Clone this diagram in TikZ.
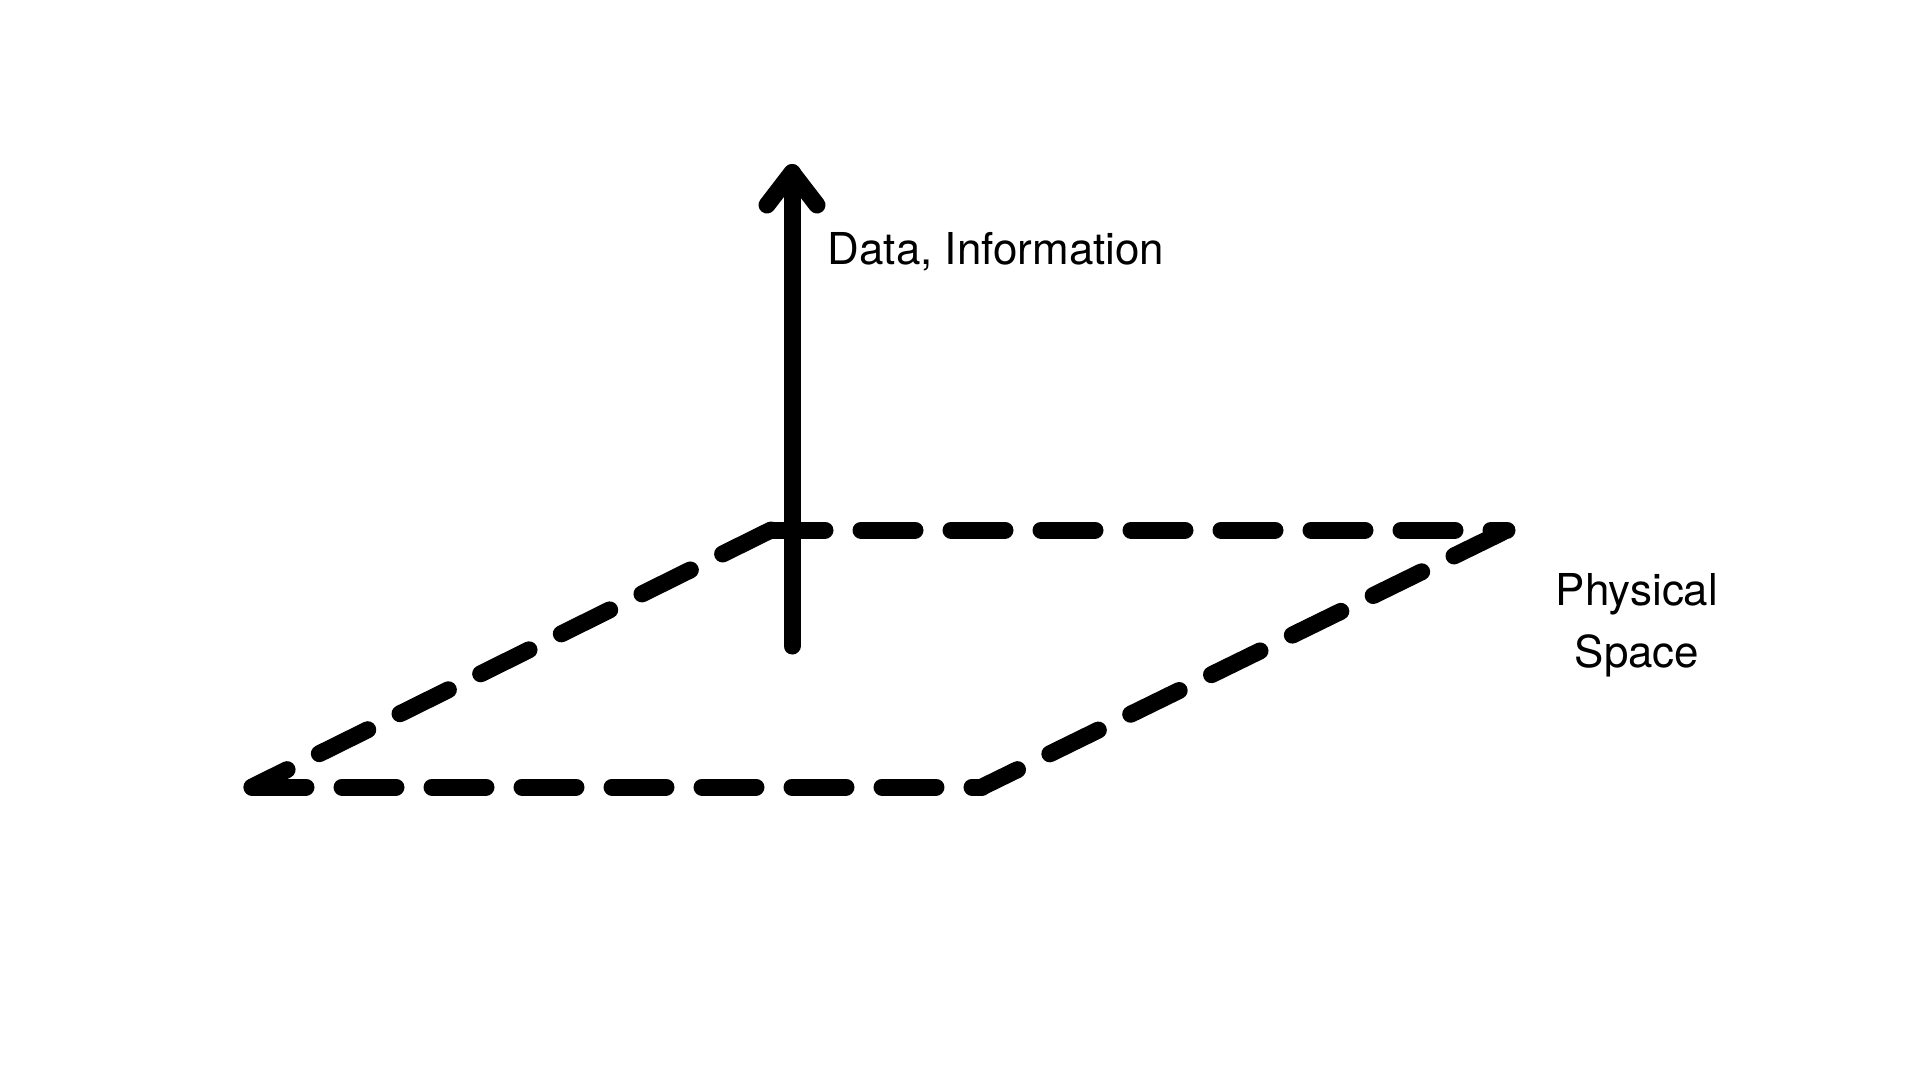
\documentclass[tikz,border=0pt]{standalone}
\usepackage{fontspec}
\newfontfamily\labelfont{TeX Gyre Heros}
\begin{document}
\begin{tikzpicture}[x=0.1mm,y=-0.1mm,
  planeedge/.style={line width=1.7mm, line cap=round, dash pattern=on 5.4mm off 3.6mm},
  axisline/.style={line width=1.7mm, line cap=round, line join=round},
  lbl/.style={inner sep=0pt, font=\labelfont\fontsize{12.5}{17.64}\selectfont}]
\useasboundingbox (0,0) rectangle (1920,1080);
% corners of the plane
\coordinate (bl) at (771,530);
\coordinate (br) at (1507,530);
\coordinate (fl) at (252,787);
\coordinate (fr) at (982,787);
% axis
\coordinate (base) at (792,646);
\coordinate (tip) at (792,172.5);
\coordinate (barbL) at (767,205);
\coordinate (barbR) at (817,205);
% plane edges
\draw[planeedge] (bl) -- (fl);
\draw[planeedge] (bl) -- (br);
\draw[planeedge] (fl) -- (fr);
\draw[planeedge, dash phase=8.5mm] (br) -- (fr);
% vertical arrow
\draw[axisline] (base) -- (tip);
\draw[axisline] (barbL) -- (tip) -- (barbR);
% labels
\node[lbl, anchor=base west] (data) at (827,264) {Data, Information};
\node[lbl, anchor=base, align=center] (phys) at (1637,667) {Physical\\Space};
\end{tikzpicture}
\end{document}
